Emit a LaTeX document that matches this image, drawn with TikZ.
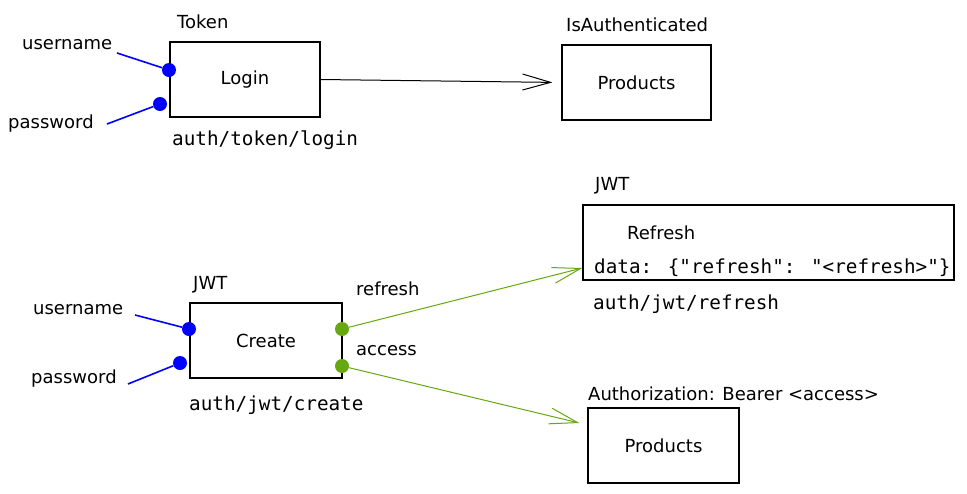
\documentclass[tikz,border=0pt]{standalone}
\usepackage{fontspec}
\setmainfont{DejaVu Sans}
\newfontfamily\codefont{DejaVu Sans Mono}
\usepackage{xcolor}
\usetikzlibrary{arrows.meta}
\definecolor{leaf}{HTML}{66A80F}

\begin{document}
\begin{tikzpicture}[x=1pt, y=-1pt,
        box/.style={draw, line width=1.3pt, inner sep=0pt, font=\fontsize{18}{21}\selectfont},
        hand/.style={font=\fontsize{18}{21}\selectfont, inner sep=0pt, anchor=west},
        code/.style={font=\codefont\fontsize{19.3}{22}\selectfont, inner sep=0pt, anchor=west},
        bluedot/.style={circle, fill=blue, inner sep=0pt, minimum size=14pt},
        greendot/.style={circle, fill=leaf, inner sep=0pt, minimum size=14pt},
        wire/.style={blue, line width=1.6pt},
        flow/.style={line width=1pt, -{Straight Barb[length=28pt, width=16pt]}}]

        \useasboundingbox (0, 0) rectangle (967, 493);

        % token login
        \node[box, minimum width=150pt, minimum height=75pt] (login) at (245, 79.5) {Login};
        \node[box, minimum width=149pt, minimum height=75pt] (prods) at (636.5, 82.5) {Products};
        \node[hand] (token) at (177, 22) {Token};
        \node[hand] (isauth) at (566, 25) {IsAuthenticated};
        \node[code] (tokurl) at (172, 140) {auth/token/login};

        \node[hand] (user) at (22, 45) {username};
        \node[hand] (pass) at (8, 124) {password};
        \node[bluedot] (lu) at (169, 70) {};
        \node[bluedot] (lp) at (160, 104) {};
        \coordinate (ue) at (117, 53);
        \coordinate (pe) at (107, 124);
        \draw[wire] (ue) -- (lu);
        \draw[wire] (pe) -- (lp);

        \draw[flow, shorten >=9pt] (login.east) -- (prods.west);

        % jwt create
        \node[box, minimum width=152pt, minimum height=75pt] (create) at (266, 340.5) {Create};
        \node[hand] (jwt) at (193, 285) {JWT};
        \node[code] (jwturl) at (189, 405) {auth/jwt/create};

        \node[hand] (juser) at (33, 310) {username};
        \node[hand] (jpass) at (31, 379) {password};
        \node[bluedot] (cu) at (189, 329) {};
        \node[bluedot] (cp) at (180, 363) {};
        \coordinate (jue) at (135, 315);
        \coordinate (jpe) at (128, 384);
        \draw[wire] (jue) -- (cu);
        \draw[wire] (jpe) -- (cp);

        \node[greendot] (cr) at (342, 329) {};
        \node[greendot] (ca) at (342, 366) {};
        \node[hand] (reflab) at (356, 289) {refresh};
        \node[hand] (acclab) at (356, 351) {access};

        % refresh box
        \node[box, minimum width=371pt, minimum height=75pt] (refbox) at (768.5, 242.5) {};
        \node[hand] (refname) at (627, 233) {Refresh};
        \node[code] (data) at (594, 268) {data: \{"refresh": "<refresh>"\}};
        \node[hand] (jwt2) at (595, 186) {JWT};
        \node[code] (refurl) at (593, 304) {auth/jwt/refresh};

        % products with bearer
        \node[box, minimum width=151pt, minimum height=75pt] (prods2) at (663.5, 445.5) {Products};
        \node[hand] (bearer) at (588, 394) {Authorization: Bearer <access>};
        \coordinate (accin) at ([shift={(-8,-22.5)}]prods2.west);

        \draw[flow, leaf] (cr) -- (refbox.west |- data.west);
        \draw[flow, leaf] (ca) -- (accin);
\end{tikzpicture}
\end{document}
